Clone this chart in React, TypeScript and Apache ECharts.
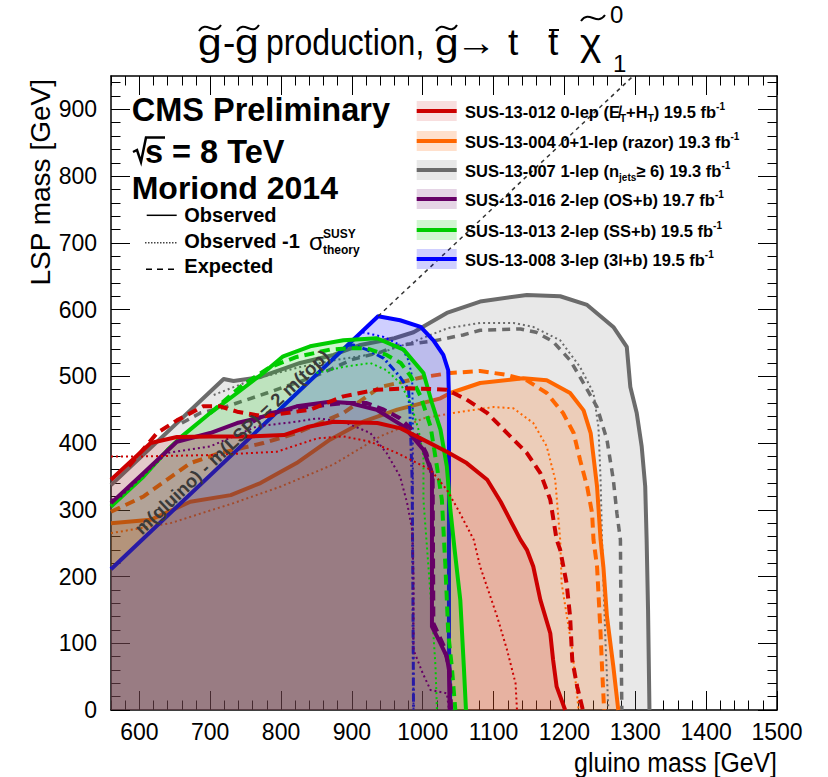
import React, { useEffect, useRef } from "react";
import * as echarts from "echarts";

// ---------------- axes ----------------
const X_MIN = 560;
const X_MAX = 1500;
const Y_MIN = 0;
const Y_MAX = 950;
const xMajorTicks = [600, 700, 800, 900, 1000, 1100, 1200, 1300, 1400, 1500];
const yMajorTicks = [0, 100, 200, 300, 400, 500, 600, 700, 800, 900];
const xMinorTicks: number[] = [];
for (let v = X_MIN; v <= X_MAX; v += 20) xMinorTicks.push(v);
const yMinorTicks: number[] = [];
for (let v = Y_MIN; v <= Y_MAX; v += 20) yMinorTicks.push(v);

// ---------------- contours [gluino mass, LSP mass] ----------------
// SUS-13-012 (red)
const redObs = [[560,345],[616,400],[653,409],[700,410],[757,410],[804,412],[837,424],[874,432],[936,430],[969,422],[997,407],[1034,387],[1062,370],[1091,345],[1110,312],[1138,255],[1147,240],[1156,215],[1166,165],[1180,115],[1184,75],[1189,35],[1201,0]];
const redExp = [[585,365],[625,415],[653,434],[690,455],[714,455],[738,447],[775,440],[841,450],[888,470],[935,480],[982,482],[1034,480],[1062,465],[1091,445],[1119,415],[1147,385],[1166,355],[1180,315],[1189,255],[1194,240],[1203,190],[1208,140],[1211,75],[1218,35],[1226,0]];
const redDot = [[560,380],[606,380],[700,382],[794,387],[851,407],[888,410],[926,402],[964,385],[1011,360],[1034,330],[1050,300],[1072,255],[1081,215],[1105,140],[1119,90],[1131,40],[1133,0]];
// SUS-13-004 (orange)
const orangeObs = [[560,280],[616,285],[672,312],[729,322],[771,340],[822,370],[869,405],[916,432],[964,450],[1025,467],[1039,475],[1081,490],[1142,497],[1175,494],[1208,475],[1227,449],[1237,415],[1246,335],[1251,255],[1255,214],[1260,140],[1269,65],[1276,0]];
const orangeExp = [[560,297],[606,320],[672,370],[714,385],[775,400],[822,415],[888,445],[940,484],[1001,499],[1039,505],[1081,508],[1119,502],[1147,494],[1175,475],[1198,445],[1213,415],[1222,375],[1232,335],[1239,295],[1241,255],[1246,215],[1251,115],[1253,65],[1256,0]];
const orangeDot = [[560,265],[644,280],[733,310],[800,335],[874,368],[940,410],[1001,437],[1043,445],[1100,454],[1128,452],[1156,430],[1175,395],[1187,345],[1194,255],[1196,190],[1211,90],[1220,0]];
// SUS-13-007 (gray)
const grayObs = [[560,337],[719,496],[733,493],[771,499],[827,520],[874,532],[912,547],[960,557],[987,566],[1034,595],[1081,612],[1147,622],[1194,620],[1232,607],[1269,574],[1288,544],[1293,484],[1302,445],[1309,395],[1314,335],[1316,255],[1318,150],[1320,0]];
const grayExp = [[660,430],[686,445],[721,454],[780,475],[840,497],[865,508],[900,525],[940,536],[964,546],[1015,553],[1057,562],[1081,569],[1138,571],[1160,566],[1184,552],[1208,524],[1222,499],[1246,454],[1260,405],[1269,345],[1274,295],[1279,255],[1280,100],[1281,0]];
const grayDot = [[705,472],[760,495],[827,514],[880,525],[940,535],[987,552],[1035,572],[1081,580],[1128,580],[1156,574],[1194,554],[1222,514],[1241,475],[1248,424],[1251,345],[1253,255],[1258,100],[1262,0]];
// SUS-13-016 (purple)
const purpleObs = [[560,310],[606,355],[653,402],[700,415],[738,430],[766,437],[822,455],[869,462],[897,460],[935,450],[973,425],[1001,390],[1013,355],[1013,125],[1025,100],[1034,80],[1037,60],[1038,0]];
const purpleExp = [[760,432],[780,444],[822,452],[888,460],[921,460],[945,450],[968,437],[990,415],[1005,385],[1014,350],[1015,130],[1030,95],[1038,60],[1040,0]];
const purpleDot = [[560,315],[574,320],[639,385],[700,395],[766,425],[822,432],[851,437],[888,432],[926,415],[949,385],[968,350],[978,310],[985,270],[987,200],[987,90],[1000,55],[1011,30],[1034,25],[1037,0]];
// SUS-13-013 (green)
const greenObs = [[560,305],[606,350],[640,390],[660,410],[700,445],[738,475],[775,505],[803,530],[841,545],[888,554],[935,557],[973,540],[1001,505],[1013,460],[1025,420],[1034,365],[1039,300],[1045,240],[1053,165],[1058,65],[1061,0]];
const greenExp = [[700,445],[747,488],[785,514],[822,529],[869,540],[897,542],[921,542],[949,532],[969,520],[983,500],[997,470],[1011,425],[1020,365],[1027,315],[1032,215],[1036,115],[1041,65],[1046,0]];
const greenDot = [[850,505],[888,514],[926,520],[949,509],[968,490],[983,460],[994,420],[1001,380],[1001,315],[1008,215],[1015,115],[1018,65],[1020,0]];
// SUS-13-008 (blue)
const blueObs = [[560,211],[937,590],[968,584],[997,574],[1015,554],[1029,532],[1036,509],[1037,470],[1037,300],[1037,100],[1039,0]];
const blueExp = [[893,546],[902,547],[921,540],[945,527],[968,499],[980,480],[982,445],[985,345],[986,200],[987,0]];
const blueDot = [[915,566],[945,559],[968,547],[980,524],[985,499],[986,445],[986,200],[987,0]];
// kinematic limit m(gluino) - m(LSP) = 2 m(top)
const kinLine = [[937,590],[1297,950]];

// ---------------- styles ----------------
const FONT = "'Liberation Sans', Arial, Helvetica, sans-serif";
const COLORS = {
  red: { line: "#cc0000", fill: "rgb(204,0,0)", op: 0.13 },
  orange: { line: "#ff6600", fill: "rgb(255,102,0)", op: 0.2 },
  gray: { line: "#6b6b6b", fill: "rgb(110,110,110)", op: 0.16 },
  purple: { line: "#660066", fill: "rgb(102,0,102)", op: 0.17 },
  green: { line: "#00cc00", fill: "rgb(0,204,0)", op: 0.18 },
  blue: { line: "#0000ff", fill: "rgb(0,0,255)", op: 0.19 },
};
const SOLID = { width: 4, type: "solid" as any };
const DASHED = { width: 4, type: [10, 6] as any };
const DOTTED = { width: 2, type: [2, 3] as any };
const DASHDOT = { width: 3, type: [8, 3, 2, 3] as any };

function fillSeries(data: number[][], c: { fill: string; op: number }) {
  return {
    type: "line",
    data,
    showSymbol: false,
    silent: true,
    animation: false,
    lineStyle: { width: 0, opacity: 0 },
    areaStyle: { color: c.fill, opacity: c.op, origin: "start" },
  };
}
function lineSeries(data: number[][], color: string, st: { width: number; type: any }) {
  return {
    type: "line",
    data,
    showSymbol: false,
    silent: true,
    animation: false,
    lineStyle: { color, width: st.width, type: st.type, cap: "butt", join: "round" },
  };
}

const GZ = 200;
function txt(text: string, x: number, y: number, fontSize: number, o: any = {}) {
  return {
    type: "text",
    x,
    y,
    z: GZ,
    silent: true,
    scaleX: o.scaleX ?? 1,
    scaleY: o.scaleY ?? 1,
    rotation: o.rotation ?? 0,
    style: {
      text,
      x: 0,
      y: 0,
      fill: o.color ?? "#000",
      opacity: o.opacity ?? 1,
      fontSize,
      fontFamily: o.family ?? FONT,
      fontWeight: o.bold ? "bold" : "normal",
      lineHeight: o.lineHeight ?? Math.round(fontSize * 1.0),
      align: o.align ?? "left",
      verticalAlign: "middle",
      textAlign: o.align ?? "left",
      textVerticalAlign: "middle",
    },
  };
}
function tilde(x0: number, yc: number, w: number) {
  return {
    type: "bezierCurve",
    z: GZ,
    silent: true,
    shape: { x1: x0, y1: yc + 3, cpx1: x0 + w * 0.35, cpy1: yc - 9, cpx2: x0 + w * 0.65, cpy2: yc + 9, x2: x0 + w, y2: yc - 3 },
    style: { stroke: "#000", lineWidth: 2, fill: null },
  };
}

const legendEntries = [
  { key: "red", text: "{a|SUS-13-012 0-lep (E\u0338}{s|T}{a|+H}{s|T}{a|) 19.5 fb}{p|-1}" },
  { key: "orange", text: "{a|SUS-13-004 0+1-lep (razor) 19.3 fb}{p|-1}" },
  { key: "gray", text: "{a|SUS-13-007 1-lep (n}{s|jets}{a|\u2265 6) 19.3 fb}{p|-1}" },
  { key: "purple", text: "{a|SUS-13-016 2-lep (OS+b) 19.7 fb}{p|-1}" },
  { key: "green", text: "{a|SUS-13-013 2-lep (SS+b) 19.5 fb}{p|-1}" },
  { key: "blue", text: "{a|SUS-13-008 3-lep (3l+b) 19.5 fb}{p|-1}" },
];
const legendY = [111, 141, 170, 199, 230, 259];

function buildGraphics() {
  const g: any[] = [];
  // title
  const ty = 42.2;
  g.push(txt("g", 198, ty, 37, { scaleX: 1.15 }));
  g.push(tilde(199, 28, 22));
  g.push(txt("-", 223, ty, 37));
  g.push(txt("g", 235, ty, 37, { scaleX: 1.15 }));
  g.push(tilde(237, 28, 22));
  g.push(txt("production,", 266, ty, 37, { scaleX: 0.865 }));
  g.push(txt("g", 435, ty, 37, { scaleX: 1.15 }));
  g.push(tilde(436, 28, 21));
  g.push(txt("\u2192", 456, ty, 37, { scaleX: 1.1 }));
  g.push(txt("t", 508, ty, 37));
  g.push(txt("t", 548, ty, 37));
  g.push({ type: "line", z: GZ, silent: true, shape: { x1: 549, y1: 30, x2: 559, y2: 30 }, style: { stroke: "#000", lineWidth: 2 } });
  g.push(txt("\u03c7", 580, ty, 37, { scaleX: 1.1 }));
  g.push(tilde(581, 18, 24));
  g.push(txt("0", 610, 14, 24));
  g.push(txt("1", 613, 63.7, 24));

  // axis titles
  g.push(txt("LSP mass [GeV]", 40, 79, 28, { align: "right", rotation: Math.PI / 2 }));
  g.push(txt("gluino mass [GeV]", 777, 763, 27, { align: "right", scaleX: 0.92 }));

  // CMS label
  g.push(txt("CMS Preliminary", 131.7, 109.6, 32.5, { bold: true, lineHeight: 30 }));
  g.push({ type: "polyline", z: GZ, silent: true, shape: { points: [[133, 152], [137, 150], [141, 162], [146, 137.5], [165, 137.5]] }, style: { stroke: "#000", lineWidth: 2.5, fill: null } });
  g.push(txt("s = 8 TeV", 145, 152.2, 32.5, { bold: true, lineHeight: 30 }));
  g.push(txt("Moriond 2014", 131.7, 188.3, 32, { bold: true, lineHeight: 28 }));

  // line-style legend
  g.push({ type: "line", z: GZ, silent: true, shape: { x1: 146.7, y1: 215.3, x2: 176.7, y2: 215.3 }, style: { stroke: "#000", lineWidth: 1.5 } });
  g.push({ type: "line", z: GZ, silent: true, shape: { x1: 145, y1: 242.7, x2: 178, y2: 242.7 }, style: { stroke: "#444", lineWidth: 1.5, lineDash: [1.5, 1.5] } });
  g.push({ type: "line", z: GZ, silent: true, shape: { x1: 146, y1: 269.3, x2: 178, y2: 269.3 }, style: { stroke: "#000", lineWidth: 1.5, lineDash: [6, 5] } });
  g.push(txt("Observed", 184.3, 215.2, 20, { bold: true, lineHeight: 18 }));
  g.push(txt("Observed -1", 184.3, 241.4, 20, { bold: true, lineHeight: 18 }));
  g.push(txt("\u03c3", 309, 241.4, 24, { lineHeight: 20 }));
  g.push(txt("SUSY", 323, 234, 12, { bold: true, lineHeight: 11 }));
  g.push(txt("theory", 323, 250, 12, { bold: true, lineHeight: 12 }));
  g.push(txt("Expected", 184.3, 266.4, 20, { bold: true, lineHeight: 18 }));

  // analysis legend
  legendEntries.forEach((e, i) => {
    const c = (COLORS as any)[e.key];
    const cy = legendY[i];
    g.push({ type: "rect", z: GZ, silent: true, shape: { x: 416.7, y: cy - 10, width: 40, height: 20 }, style: { fill: c.fill, opacity: c.op } });
    g.push({ type: "line", z: GZ, silent: true, shape: { x1: 416.7, y1: cy, x2: 456.7, y2: cy }, style: { stroke: c.line, lineWidth: 4 } });
    g.push({
      type: "text",
      x: 465,
      y: cy + 1.2,
      z: GZ,
      silent: true,
      style: {
        text: e.text,
        x: 0,
        y: 0,
        align: "left",
        verticalAlign: "middle",
        textAlign: "left",
        textVerticalAlign: "middle",
        rich: {
          a: { fontSize: 16.5, fontWeight: "bold", fontFamily: FONT, fill: "#000", lineHeight: 22 },
          s: { fontSize: 10, fontWeight: "bold", fontFamily: FONT, fill: "#000", lineHeight: 10, verticalAlign: "bottom" },
          p: { fontSize: 10, fontWeight: "bold", fontFamily: FONT, fill: "#000", lineHeight: 10, verticalAlign: "top" },
        },
      },
    });
  });

  // diagonal label
  g.push(txt("m(gluino) - m(LSP) = 2 m(top)", 232, 442, 18.5, { bold: true, align: "center", rotation: (43.3 * Math.PI) / 180, color: "#3a3a3a", opacity: 1, lineHeight: 18 }));
  return g;
}

function xAxis(position: string, ticks: number[], len: number, labels: boolean, line: boolean) {
  return {
    type: "value",
    min: X_MIN,
    max: X_MAX,
    position,
    axisLine: { show: line, onZero: false, lineStyle: { color: "#000", width: 1.5 } },
    axisTick: { show: true, inside: true, length: len, customValues: ticks, lineStyle: { color: "#000", width: 1 } },
    axisLabel: labels
      ? { show: true, customValues: xMajorTicks, fontSize: 23, color: "#000", fontFamily: FONT, margin: 10, formatter: (v: number) => String(v) }
      : { show: false },
    splitLine: { show: false },
  };
}
function yAxis(position: string, ticks: number[], len: number, labels: boolean, line: boolean) {
  return {
    type: "value",
    min: Y_MIN,
    max: Y_MAX,
    position,
    axisLine: { show: line, onZero: false, lineStyle: { color: "#000", width: 1.5 } },
    axisTick: { show: true, inside: true, length: len, customValues: ticks, lineStyle: { color: "#000", width: 1 } },
    axisLabel: labels
      ? { show: true, customValues: yMajorTicks, fontSize: 23, color: "#000", fontFamily: FONT, margin: 14, formatter: (v: number) => String(v) }
      : { show: false },
    splitLine: { show: false },
  };
}

export default function App() {
  const ref = useRef<HTMLDivElement>(null);
  useEffect(() => {
    if (!ref.current) return;
    const chart = echarts.init(ref.current, undefined, { renderer: "svg" });
    const C = COLORS;
    const series: any[] = [
      fillSeries(grayObs, C.gray),
      fillSeries(orangeObs, C.orange),
      lineSeries(grayDot, C.gray.line, DOTTED),
      lineSeries(grayExp, C.gray.line, { width: 3.5, type: [8, 6] }),
      lineSeries(grayObs, C.gray.line, SOLID),
      lineSeries(orangeDot, C.orange.line, DOTTED),
      lineSeries(orangeExp, C.orange.line, DASHED),
      lineSeries(orangeObs, C.orange.line, SOLID),
      fillSeries(blueObs, C.blue),
      lineSeries(blueDot, C.blue.line, DOTTED),
      lineSeries(blueExp, C.blue.line, DASHDOT),
      lineSeries(blueObs, C.blue.line, SOLID),
      fillSeries(greenObs, C.green),
      fillSeries(purpleObs, C.purple),
      fillSeries(redObs, C.red),
      lineSeries(kinLine, "#333", { width: 1.5, type: [4, 4] }),
      lineSeries(greenDot, C.green.line, DOTTED),
      lineSeries(greenExp, C.green.line, DASHED),
      lineSeries(greenObs, C.green.line, SOLID),
      lineSeries(purpleDot, C.purple.line, DOTTED),
      lineSeries(purpleExp, C.purple.line, DASHED),
      lineSeries(purpleObs, C.purple.line, SOLID),
      lineSeries(redDot, C.red.line, DOTTED),
      lineSeries(redExp, C.red.line, DASHED),
      lineSeries(redObs, C.red.line, SOLID),
    ];
    series.forEach((s, i) => {
      s.z = 2 + i;
    });
    chart.setOption({
      animation: false,
      backgroundColor: "#fff",
      grid: { left: 111, right: 51, top: 76, bottom: 67, containLabel: false, outerBoundsMode: "none" },
      xAxis: [
        xAxis("bottom", xMajorTicks, 19, true, true),
        xAxis("bottom", xMinorTicks, 9.5, false, false),
        xAxis("top", xMajorTicks, 19, false, true),
        xAxis("top", xMinorTicks, 9.5, false, false),
      ],
      yAxis: [
        yAxis("left", yMajorTicks, 19, true, true),
        yAxis("left", yMinorTicks, 9.5, false, false),
        yAxis("right", yMajorTicks, 19, false, true),
        yAxis("right", yMinorTicks, 9.5, false, false),
      ],
      series,
      graphic: { z: 100, elements: buildGraphics() },
    });
    return () => chart.dispose();
  }, []);
  return <div ref={ref} style={{ position: "fixed", left: 0, top: 0, width: 828, height: 777 }} />;
}
